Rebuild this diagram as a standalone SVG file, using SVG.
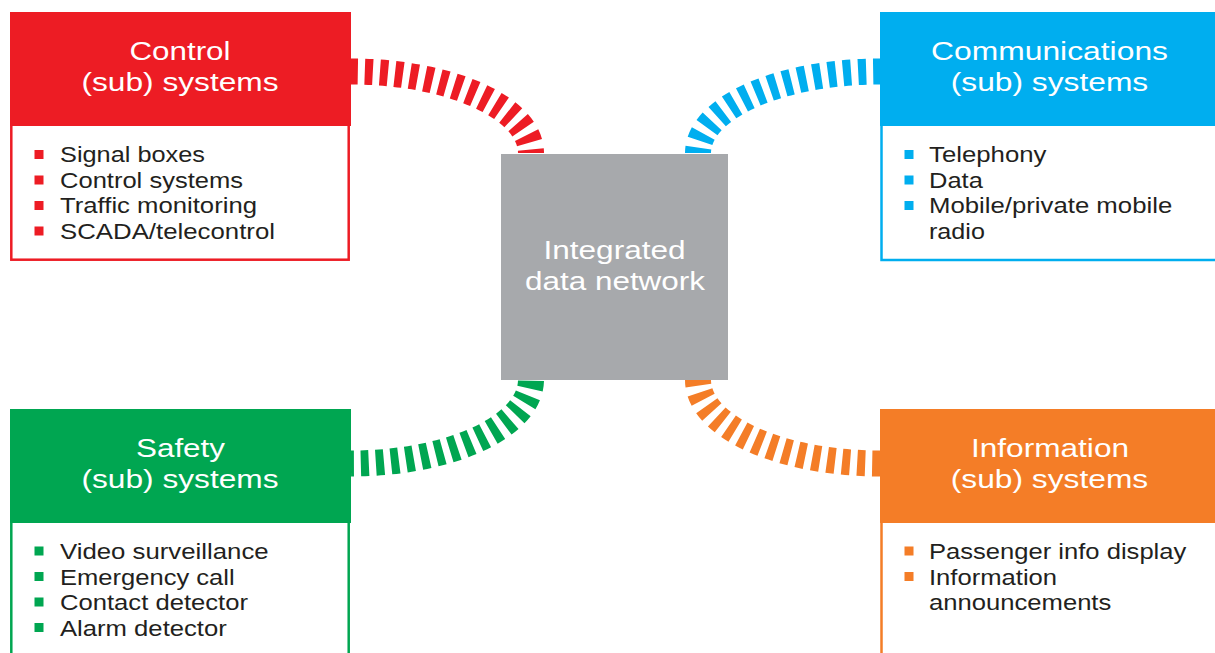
<svg xmlns="http://www.w3.org/2000/svg" width="1215" height="653" viewBox="0 0 1215 653">
  <style>
    .head { font-family: "Liberation Sans", Arial, sans-serif; font-size: 26px; fill: #ffffff; text-anchor: middle; }
    .item { font-family: "Liberation Sans", Arial, sans-serif; font-size: 21.5px; fill: #231f20; }
    .body { fill: #ffffff; stroke-width: 2.5; }
    .link { fill: none; stroke-width: 26; stroke-dasharray: 8 7; }
    .red { fill: #ed1c24; }
    .blue { fill: #00aeef; }
    .green { fill: #00a651; }
    .orange { fill: #f47d27; }
  </style>

  <!-- dashed links between the subsystem blocks and the central network -->
  <g id="connectors">
    <path class="link" stroke="#ed1c24" stroke-dashoffset="1" d="M351,71.5 A180,81.5 0 0 1 531,153"/>
    <path class="link" stroke="#00aeef" stroke-dashoffset="1" d="M880,71.5 A182,81.5 0 0 0 698,153"/>
    <path class="link" stroke="#00a651" stroke-dashoffset="5" d="M351,463.5 A180,83.5 0 0 0 531,380"/>
    <path class="link" stroke="#f47d27" stroke-dashoffset="0" d="M880,463.5 A182,83.5 0 0 1 698,380"/>
  </g>

  <!-- central block -->
  <g id="node-network">
    <rect x="501" y="154" width="227" height="226" fill="#a7a9ac"/>
    <text class="head" x="614.5" y="259" textLength="142" lengthAdjust="spacingAndGlyphs">Integrated</text>
    <text class="head" x="615" y="290" textLength="180" lengthAdjust="spacingAndGlyphs">data network</text>
  </g>

  <!-- control subsystems -->
  <g id="node-control">
    <rect class="body" x="11.3" y="124" width="337.4" height="135.7" stroke="#ed1c24"/>
    <rect class="red" x="10" y="12" width="341" height="114"/>
    <text class="head" x="180" y="60" textLength="101" lengthAdjust="spacingAndGlyphs">Control</text>
    <text class="head" x="180" y="91" textLength="197" lengthAdjust="spacingAndGlyphs">(sub) systems</text>
    <rect class="red" x="34.5" y="150" width="9" height="9"/>
    <rect class="red" x="34.5" y="175.5" width="9" height="9"/>
    <rect class="red" x="34.5" y="201" width="9" height="9"/>
    <rect class="red" x="34.5" y="226.5" width="9" height="9"/>
    <text class="item" x="60" y="162" textLength="145" lengthAdjust="spacingAndGlyphs">Signal boxes</text>
    <text class="item" x="60" y="187.5" textLength="183" lengthAdjust="spacingAndGlyphs">Control systems</text>
    <text class="item" x="60" y="213" textLength="197" lengthAdjust="spacingAndGlyphs">Traffic monitoring</text>
    <text class="item" x="60" y="238.5" textLength="215" lengthAdjust="spacingAndGlyphs">SCADA/telecontrol</text>
  </g>

  <!-- communications subsystems -->
  <g id="node-communications">
    <rect class="body" x="881.5" y="124" width="345" height="136" stroke="#00aeef"/>
    <rect class="blue" x="880" y="12" width="345" height="114"/>
    <text class="head" x="1049.5" y="60" textLength="237" lengthAdjust="spacingAndGlyphs">Communications</text>
    <text class="head" x="1049.5" y="91" textLength="197.5" lengthAdjust="spacingAndGlyphs">(sub) systems</text>
    <rect class="blue" x="904.5" y="150" width="9" height="9"/>
    <rect class="blue" x="904.5" y="175.5" width="9" height="9"/>
    <rect class="blue" x="904.5" y="201" width="9" height="9"/>
    <text class="item" x="929" y="162" textLength="117.5" lengthAdjust="spacingAndGlyphs">Telephony</text>
    <text class="item" x="929" y="187.5" textLength="53.8" lengthAdjust="spacingAndGlyphs">Data</text>
    <text class="item" x="929" y="213" textLength="243.2" lengthAdjust="spacingAndGlyphs">Mobile/private mobile</text>
    <text class="item" x="929" y="238.5" textLength="55.9" lengthAdjust="spacingAndGlyphs">radio</text>
  </g>

  <!-- safety subsystems -->
  <g id="node-safety">
    <rect class="body" x="11.3" y="521" width="337.4" height="150" stroke="#00a651"/>
    <rect class="green" x="10" y="409" width="341" height="114"/>
    <text class="head" x="180.5" y="457" textLength="89" lengthAdjust="spacingAndGlyphs">Safety</text>
    <text class="head" x="180" y="488" textLength="197" lengthAdjust="spacingAndGlyphs">(sub) systems</text>
    <rect class="green" x="34.5" y="546.5" width="9" height="9"/>
    <rect class="green" x="34.5" y="572" width="9" height="9"/>
    <rect class="green" x="34.5" y="597.5" width="9" height="9"/>
    <rect class="green" x="34.5" y="623" width="9" height="9"/>
    <text class="item" x="60" y="559" textLength="208.6" lengthAdjust="spacingAndGlyphs">Video surveillance</text>
    <text class="item" x="60" y="584.5" textLength="174.6" lengthAdjust="spacingAndGlyphs">Emergency call</text>
    <text class="item" x="60" y="610" textLength="188" lengthAdjust="spacingAndGlyphs">Contact detector</text>
    <text class="item" x="60" y="635.5" textLength="166.8" lengthAdjust="spacingAndGlyphs">Alarm detector</text>
  </g>

  <!-- information subsystems -->
  <g id="node-information">
    <rect class="body" x="881.5" y="521" width="345" height="150" stroke="#f47d27"/>
    <rect class="orange" x="880" y="409" width="345" height="114"/>
    <text class="head" x="1050" y="457" textLength="158.2" lengthAdjust="spacingAndGlyphs">Information</text>
    <text class="head" x="1049.5" y="488" textLength="197.5" lengthAdjust="spacingAndGlyphs">(sub) systems</text>
    <rect class="orange" x="904.5" y="546.5" width="9" height="9"/>
    <rect class="orange" x="904.5" y="572" width="9" height="9"/>
    <text class="item" x="929" y="559" textLength="257.3" lengthAdjust="spacingAndGlyphs">Passenger info display</text>
    <text class="item" x="929" y="584.5" textLength="128.1" lengthAdjust="spacingAndGlyphs">Information</text>
    <text class="item" x="929" y="610" textLength="182.3" lengthAdjust="spacingAndGlyphs">announcements</text>
  </g>
</svg>
